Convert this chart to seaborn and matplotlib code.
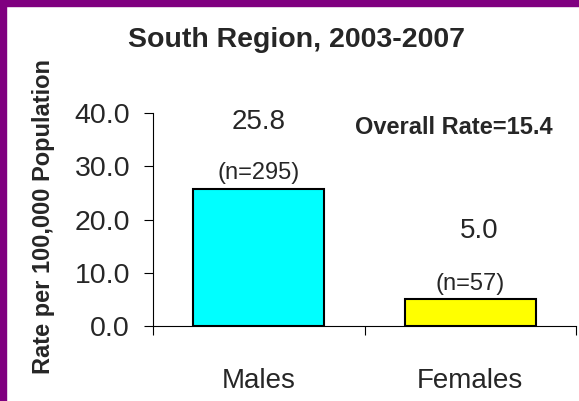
import matplotlib
matplotlib.use("Agg")
import matplotlib.pyplot as plt
import seaborn as sns
import pandas as pd
from matplotlib.patches import Rectangle
from matplotlib.ticker import FixedLocator, NullFormatter

categories = ["Males", "Females"]
rates = [25.8, 5.0]
counts = ["(n=295)", "(n=57)"]
bar_colors = ["#00FFFF", "#FFFF00"]
yticks = [0, 10, 20, 30, 40]
title = "South Region, 2003-2007"
ylabel = "Rate per 100,000 Population"
overall = "Overall Rate=15.4"

sns.set_style("white")
plt.rcParams['font.family'] = ['Liberation Sans', 'DejaVu Sans']

df = pd.DataFrame({"cat": categories, "rate": rates})

fig = plt.figure(figsize=(5.79, 4.01), dpi=100)
ax = fig.add_axes([153/579, (401-326)/401, (576-153)/579, (326-113)/401])

sns.barplot(data=df, x="cat", y="rate", hue="cat", palette=bar_colors,
            width=0.62, edgecolor="black", linewidth=1.5, legend=False, ax=ax,
            saturation=1)

ax.set_xlim(-0.5, 1.5)
ax.set_ylim(0, 40)
ax.set_yticks(yticks)
ax.set_yticklabels([f"{v:.1f}" for v in yticks], fontsize=20.5)
ax.tick_params(axis='y', direction='out', length=6.5, width=0.8, pad=10, left=True, color='black')
ax.tick_params(axis='x', which='major', length=0, pad=30, labelsize=20)
ax.xaxis.set_minor_locator(FixedLocator([-0.5, 0.5, 1.5]))
ax.xaxis.set_minor_formatter(NullFormatter())
ax.tick_params(axis='x', which='minor', direction='out', length=6.5, width=0.8, bottom=True, color='black')
ax.set_xlabel("")
ax.set_ylabel("")

for s in ["top", "right"]:
    ax.spines[s].set_visible(False)
for s in ["left", "bottom"]:
    ax.spines[s].set_color("black")
    ax.spines[s].set_linewidth(0.8)

value_offsets = [12.5, 12.8]
xoffs = [0.0, 0.04]
for i, (r, c) in enumerate(zip(rates, counts)):
    ax.text(i, r + 0.8, c, ha="center", va="bottom", fontsize=17)
    ax.text(i + xoffs[i], r + value_offsets[i], f"{r:.1f}", ha="center", va="center", fontsize=20)

fig.text(454/579, (401-127)/401, overall, ha="center", va="center", fontsize=17, fontweight="bold")
fig.text(297/579, (401-47)/401, title, ha="center", va="baseline", fontsize=20.5, fontweight="bold")
fig.text(44/579, (401-217)/401, ylabel, ha="center", va="center", rotation=90, fontsize=17, fontweight="bold")

# purple border (top and left)
fig.patches.append(Rectangle((0, 1 - 6/401), 1, 6/401, transform=fig.transFigure, color="#800080", zorder=10))
fig.patches.append(Rectangle((0, 0), 6/579, 1, transform=fig.transFigure, color="#800080", zorder=10))

fig.savefig("out.png", dpi=100)
